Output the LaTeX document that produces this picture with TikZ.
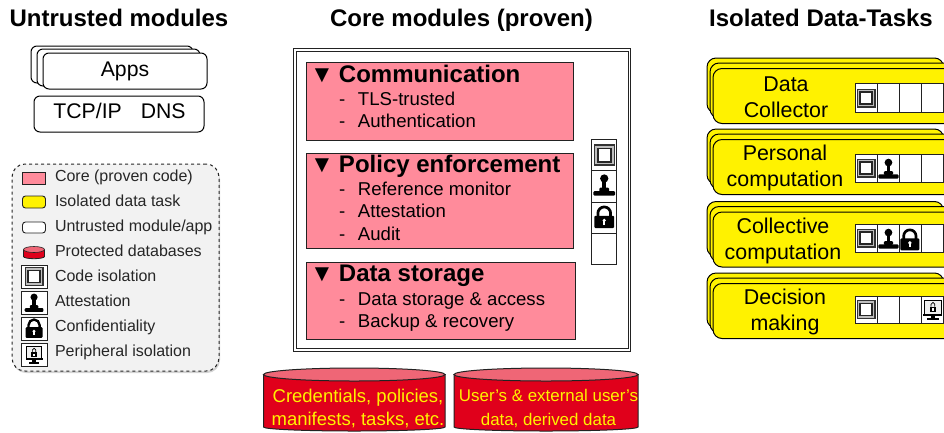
\documentclass[tikz,border=0pt]{standalone}
\usepackage{fontspec}
\setmainfont{Liberation Sans}
\usetikzlibrary{shadows}
\definecolor{corepink}{HTML}{FF8B9B}
\definecolor{dbred}{HTML}{E0001B}
\definecolor{dbtop}{HTML}{EF6676}
\definecolor{legendgray}{HTML}{F2F2F2}
\definecolor{edgegray}{HTML}{222222}
\tikzset{
  x=1pt,y=-1pt,
  every node/.style={inner sep=0pt,outer sep=0pt},
  box/.style={draw=black,line width=1pt,fill=white,rounded corners=6pt},
  corebox/.style={draw=edgegray,line width=1pt,fill=corepink},
  taskbox/.style={draw=black,line width=1pt,fill=yellow,rounded corners=9pt},
  frameouter/.style={draw=edgegray,line width=1pt,fill=white},
  cellbox/.style={draw=edgegray,line width=.9pt,fill=white},
  titletext/.style={font=\fontsize{24}{26}\selectfont\bfseries,anchor=base},
  headtext/.style={font=\fontsize{24}{26}\selectfont\bfseries,anchor=base west},
  itemtext/.style={font=\fontsize{18.6}{20}\selectfont,anchor=base west},
  tasktext/.style={font=\fontsize{21.4}{26}\selectfont,align=center},
  boxtext/.style={font=\fontsize{21.2}{24}\selectfont},
  legendtext/.style={font=\fontsize{16}{18}\selectfont,anchor=base west,text=black!85},
  dbtext/.style={font=\fontsize{18.5}{23.5}\selectfont,align=center,text=yellow},
  swatch/.style={line width=.9pt,draw=edgegray},
}
% \bx{name}{style}{x1}{y1}{x2}{y2}
\newcommand{\bx}[6]{%
  \pgfmathsetmacro{\bxw}{#5-#3}\pgfmathsetmacro{\bxh}{#6-#4}%
  \pgfmathsetmacro{\bxx}{(#3+#5)/2}\pgfmathsetmacro{\bxy}{(#4+#6)/2}%
  \node[#2,minimum width=\bxw pt,minimum height=\bxh pt] (#1) at (\bxx,\bxy) {};}
% icons, drawn in a 26x26 cell
\newcommand{\icoIso}[3]{\begin{scope}[shift={(#1,#2)},scale=#3]
  \fill[black!80] (3.5,3.5) rectangle (22.5,22.5);
  \fill[black!25] (4.8,4.8) rectangle (21.2,21.2);
  \fill[black!85] (6.3,6.3) rectangle (19.7,19.7);
  \fill[white] (7.8,7.8) rectangle (18.2,18.2);
\end{scope}}
\newcommand{\icoStamp}[3]{\begin{scope}[shift={(#1,#2)},scale=#3]
  \fill[black] (13,6.6) circle (4.2);
  \fill[black] (11,8) rectangle (15,17.5);
  \fill[black,rounded corners=1pt] (8,16) rectangle (18,20);
  \fill[black,rounded corners=1pt] (2,19.5) rectangle (24,24);
\end{scope}}
\newcommand{\icoLock}[3]{\begin{scope}[shift={(#1,#2)},scale=#3]
  \draw[black,line width=2.8pt*#3] (6.5,13) -- (6.5,9.5) arc[start angle=180,end angle=360,radius=6.5] -- (19.5,13);
  \fill[black,rounded corners=1pt] (3,12) rectangle (23,24.5);
  \fill[white] (13,16.7) circle (1.9);
  \fill[white] (12.2,17) rectangle (13.8,21);
\end{scope}}
\newcommand{\icoPeriph}[3]{\begin{scope}[shift={(#1,#2)},scale=#3]
  \draw[black,line width=1pt*#3,fill=black!6] (4,2.5) rectangle (22,17.5);
  \fill[black] (9.5,9.5) rectangle (16.5,15.5);
  \draw[black,line width=.8pt*#3] (11,9.5) -- (11,7) arc[start angle=180,end angle=360,radius=2] -- (15,9.5);
  \fill[white] (12.2,11.2) rectangle (13.8,13.8);
  \fill[black] (3,17) rectangle (23,19);
  \fill[black] (11,19) rectangle (15,22);
  \fill[black] (7,21.5) rectangle (19,23.5);
\end{scope}}
% \taskgroup{name}{top y}{text}{text centre x}
\newcommand{\taskgroup}[4]{%
  \pgfmathsetmacro{\tga}{#2}\pgfmathsetmacro{\tgb}{#2+5}\pgfmathsetmacro{\tgc}{#2+10.5}%
  \pgfmathsetmacro{\tgd}{#2+55}\pgfmathsetmacro{\tge}{#2+60}\pgfmathsetmacro{\tgf}{#2+65.5}%
  \bx{#1a}{taskbox}{707}{\tga}{943.5}{\tgd}
  \bx{#1b}{taskbox}{710}{\tgb}{960}{\tge}
  \bx{#1c}{taskbox}{713}{\tgc}{970}{\tgf}
  \node[tasktext] (#1t) at (#4,#2+39) {#3};}
% \cells{name}{top}{bottom}
\newcommand{\cells}[3]{%
  \bx{#1p}{cellbox}{855}{#2}{877}{#3}
  \bx{#1q}{cellbox}{877}{#2}{899}{#3}
  \bx{#1r}{cellbox}{899}{#2}{921}{#3}
  \bx{#1s}{cellbox}{921}{#2}{943.3}{#3}}
\newcommand{\itm}[1]{\makebox[19pt][l]{-}#1}
\newcommand{\tri}{\makebox[29pt][l]{▼}}
\newcommand{\dbshape}[4]{% x1 x2 top bottom
  \pgfmathsetmacro{\dbr}{(#2-#1)/2}\pgfmathsetmacro{\dbm}{(#1+#2)/2}%
  \filldraw[fill=dbred,draw=edgegray,line width=1pt] (#1,#3+6.5) -- (#1,#4-4) arc[start angle=180,end angle=0,x radius=\dbr,y radius=4] -- (#2,#3+6.5) -- cycle;
  \filldraw[fill=dbtop,draw=edgegray,line width=1pt] (\dbm,#3+6.5) ellipse[x radius=\dbr,y radius=6.5];}
\begin{document}
\begin{tikzpicture}
\useasboundingbox (0,0) rectangle (944,432);
% titles
\node[titletext] (t1) at (119,26) {Untrusted modules};
\node[titletext] (t2) at (461.5,26) {Core modules (proven)};
\node[titletext] (t3) at (821,26) {Isolated Data-Tasks};
% apps
\bx{appa}{box}{31}{46}{193}{83}
\bx{appb}{box}{37}{49}{200}{86}
\bx{appc}{box}{43}{53}{207}{89}
\node[boxtext] (appt) at (125,71) {Apps};
\bx{tcp}{box}{34}{96}{204}{132}
\node[boxtext,anchor=base] (tcpt) at (119.5,118.5) {TCP/IP\hspace{19pt}DNS};
% legend
\bx{legend}{draw=black!85,dashed,line width=1pt,fill=legendgray,rounded corners=13pt,drop shadow={shadow xshift=1pt,shadow yshift=-2pt,opacity=.35}}{12}{164}{219}{371}
\bx{lg1}{swatch,fill=corepink}{22.5}{172}{45.5}{184}
\bx{lg2}{swatch,fill=yellow,rounded corners=3pt}{22.5}{196}{45.5}{208}
\bx{lg3}{swatch,fill=white,rounded corners=3pt}{22.5}{222}{45.5}{233}
\fill[dbred,draw=edgegray,line width=.8pt] (23.5,250) -- (44.5,250) -- (44.5,256.5) arc[start angle=0,end angle=180,x radius=10.5,y radius=2.2] -- cycle;
\fill[dbtop,draw=edgegray,line width=.6pt] (34,249.5) ellipse[x radius=10.5,y radius=3];
\bx{lg5}{cellbox}{21}{265}{47}{288}
\bx{lg6}{cellbox}{21}{291}{47}{314}
\bx{lg7}{cellbox}{21}{317}{47}{340}
\bx{lg8}{cellbox}{21}{343}{47}{366}
\icoIso{21}{263.5}{1}
\icoStamp{23}{291.5}{.85}
\icoLock{23}{317}{.85}
\icoPeriph{23}{344}{.85}
\node[legendtext] (l1) at (55,181) {Core (proven code)};
\node[legendtext] (l2) at (55,206) {Isolated data task};
\node[legendtext] (l3) at (55,231) {Untrusted module/app};
\node[legendtext] (l4) at (55,256) {Protected databases};
\node[legendtext] (l5) at (55,281) {Code isolation};
\node[legendtext] (l6) at (55,306) {Attestation};
\node[legendtext] (l7) at (55,331) {Confidentiality};
\node[legendtext] (l8) at (55,356) {Peripheral isolation};
% core frame
\bx{frameo}{frameouter}{293}{48}{630}{351}
\bx{framei}{frameouter}{296}{51}{628}{348}
\bx{comm}{corebox}{306}{62}{573}{140}
\bx{poli}{corebox}{306}{153}{573}{248}
\bx{stor}{corebox}{306}{262}{575}{339}
\node[headtext] (h1) at (310,82) {\tri Communication};
\node[itemtext] (i1) at (339,105) {\itm{TLS-trusted}};
\node[itemtext] (i2) at (339,127) {\itm{Authentication}};
\node[headtext] (h2) at (310,172) {\tri Policy enforcement};
\node[itemtext] (i3) at (339,195) {\itm{Reference monitor}};
\node[itemtext] (i4) at (339,217) {\itm{Attestation}};
\node[itemtext] (i5) at (339,240) {\itm{Audit}};
\node[headtext] (h3) at (310,281) {\tri Data storage};
\node[itemtext] (i6) at (339,305) {\itm{Data storage \& access}};
\node[itemtext] (i7) at (339,327) {\itm{Backup \& recovery}};
% capability column
\bx{capa}{cellbox}{591.5}{139}{616.5}{170}
\bx{capb}{cellbox}{591.5}{170}{616.5}{202}
\bx{capc}{cellbox}{591.5}{202}{616.5}{233}
\bx{capd}{cellbox}{591.5}{233}{616.5}{264}
\icoIso{590}{140.5}{1.12}
\icoStamp{591.5}{172}{.98}
\icoLock{591.5}{204}{.98}
% databases
\dbshape{263.5}{445}{368}{431}
\dbshape{454}{638}{368}{431}
\node[dbtext] (d1) at (358,408.5) {Credentials, policies,\\manifests, tasks, etc.};
\node[dbtext,font=\fontsize{16.9}{23.5}\selectfont] (d2) at (548.5,408.5) {User’s \& external user’s\\data, derived data};
% tasks
\taskgroup{ta}{58}{Data\\Collector}{786}
\taskgroup{tb}{129}{Personal\\computation}{785}
\taskgroup{tc}{201.5}{Collective\\computation}{783}
\taskgroup{td}{273}{Decision\\making}{785}
\cells{ca}{83.5}{112}
\cells{cb}{154.5}{182}
\cells{cc}{224.5}{252}
\cells{cd}{296}{323}
\icoIso{853}{85}{1}
\icoIso{853}{155}{1}
\icoIso{853}{225}{1}
\icoIso{853}{296.5}{1}
\icoStamp{876.5}{156.5}{.92}
\icoStamp{876.5}{226.5}{.92}
\icoLock{897.5}{227}{.95}
\icoPeriph{920.6}{297.6}{.95}
\end{tikzpicture}
\end{document}
